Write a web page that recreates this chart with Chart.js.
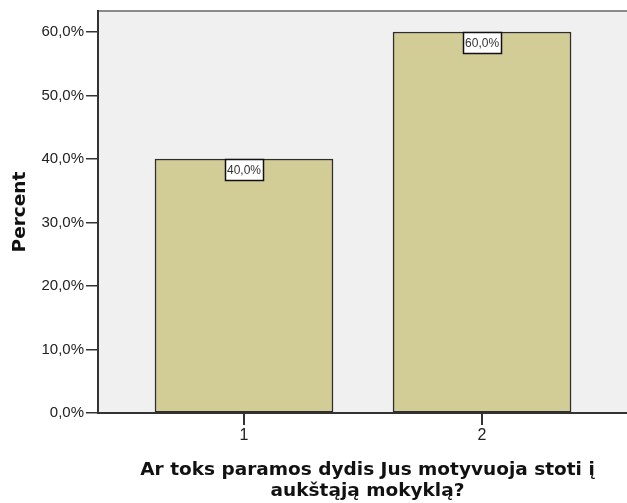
<!DOCTYPE html>
<html>
<head>
<meta charset="utf-8">
<script src="https://cdn.jsdelivr.net/npm/chart.js@4"></script>
<style>
html,body{margin:0;padding:0;background:#fff;overflow:hidden;}
#wrap{width:627px;height:503px;position:relative;overflow:hidden;}
#c{position:absolute;left:0;top:0;}
</style>
</head>
<body>
<div id="wrap"><canvas id="c" width="637" height="503"></canvas></div>
<script>
const categories = [1, 2];
const categoryLabels = ['1', '2'];
const percentValues = [40.0, 60.0];
const yTickValues = [0, 10, 20, 30, 40, 50, 60];
const xTitle = ['Ar toks paramos dydis Jus motyvuoja stoti į', 'aukštąją mokyklą?'];
const yTitle = 'Percent';

const fmt = v => v.toFixed(1).replace('.', ',') + '%';

const plotBg = {
  id: 'plotBg',
  beforeDraw(chart) {
    const {ctx, chartArea: a} = chart;
    ctx.save();
    ctx.fillStyle = '#f0f0f0';
    ctx.fillRect(a.left, a.top, a.right - a.left, a.bottom - a.top);
    ctx.strokeStyle = '#8a8a8a';
    ctx.lineWidth = 2;
    ctx.beginPath();
    ctx.moveTo(a.left, a.top);
    ctx.lineTo(a.right, a.top);
    ctx.stroke();
    ctx.restore();
  }
};

const boxLabels = {
  id: 'boxLabels',
  afterDatasetsDraw(chart) {
    const {ctx} = chart;
    const meta = chart.getDatasetMeta(0);
    ctx.save();
    ctx.font = '12px "Liberation Sans"';
    ctx.textAlign = 'center';
    ctx.textBaseline = 'middle';
    meta.data.forEach((bar, i) => {
      const txt = fmt(percentValues[i]);
      const w = Math.round(ctx.measureText(txt).width + 4);
      const h = 21;
      const x = Math.round(bar.x - w / 2) + 0.5;
      const y = Math.round(bar.y) + 0.5;
      ctx.fillStyle = '#ffffff';
      ctx.fillRect(x, y, w, h);
      ctx.strokeStyle = '#111';
      ctx.lineWidth = 1.5;
      ctx.strokeRect(x, y, w, h);
      ctx.fillStyle = '#333';
      ctx.fillText(txt, bar.x, y + h / 2 + 0.5);
    });
    ctx.restore();
  }
};

new Chart(document.getElementById('c'), {
  type: 'bar',
  data: {
    datasets: [{
      data: categories.map((c, i) => ({x: c, y: percentValues[i]})),
      backgroundColor: '#d2cd96',
      borderColor: '#2e2e2e',
      borderWidth: 1.5,
      borderSkipped: false,
      barThickness: 178
    }]
  },
  options: {
    responsive: false,
    animation: false,
    layout: {padding: {left: 0, top: 10, right: 0, bottom: 0}},
    plugins: {legend: {display: false}, tooltip: {enabled: false}},
    scales: {
      x: {
        type: 'linear',
        min: 0.3866,
        max: 2.651,
        offset: false,
        afterBuildTicks(scale) { scale.ticks = categories.map(v => ({value: v})); },
        afterFit(scale) { scale.height = 90; },
        ticks: {
          callback: (v) => categoryLabels[categories.indexOf(v)],
          color: '#222',
          font: {family: '"Liberation Sans"', size: 16},
          padding: 1,
          maxRotation: 0
        },
        grid: {offset: false, drawOnChartArea: false, drawTicks: true, tickLength: 12, color: '#333', lineWidth: 2},
        border: {display: true, color: '#333', width: 2},
        title: {
          display: true,
          text: xTitle,
          color: '#111',
          font: {family: '"DejaVu Sans"', size: 18.5, weight: 'bold', lineHeight: 1.135},
          padding: {top: 0, bottom: 1.5}
        }
      },
      y: {
        min: 0,
        max: 63.3,
        afterBuildTicks(scale) { scale.ticks = yTickValues.map(v => ({value: v})); },
        afterFit(scale) { scale.width = 98; },
        ticks: {
          callback: (v) => fmt(v),
          color: '#222',
          font: {family: '"Liberation Sans"', size: 15},
          padding: 2
        },
        grid: {drawOnChartArea: false, drawTicks: true, tickLength: 12, color: '#333', lineWidth: 1.5},
        border: {display: true, color: '#333', width: 2},
        title: {
          display: true,
          text: yTitle,
          color: '#111',
          font: {family: '"DejaVu Sans"', size: 18.5, weight: 'bold', lineHeight: 1.2},
          padding: {top: 9, bottom: 0}
        }
      }
    }
  },
  plugins: [plotBg, boxLabels]
});
</script>
</body>
</html>
